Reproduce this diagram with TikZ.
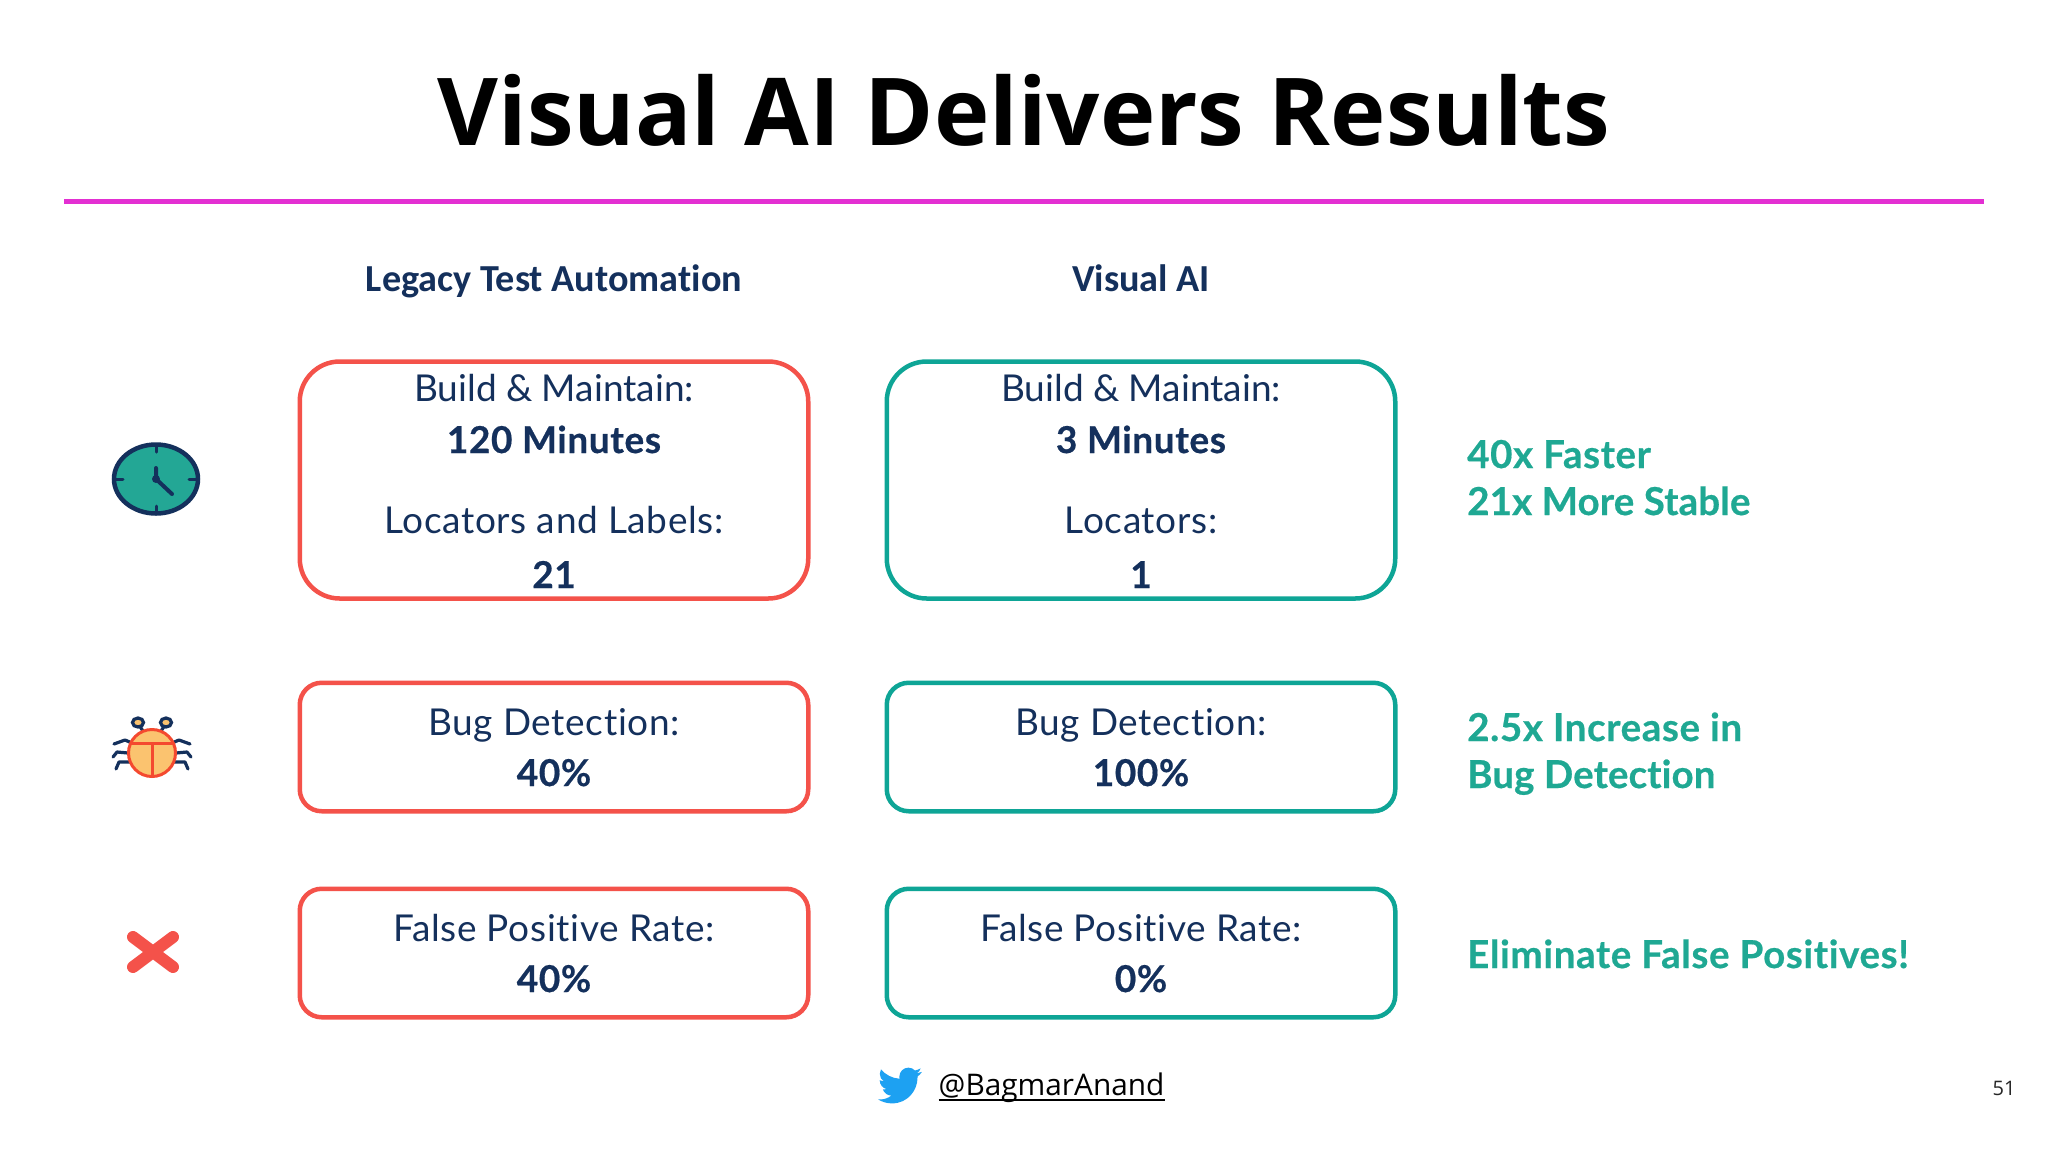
\documentclass[tikz,border=0pt]{standalone}
\usepackage{fontspec}
\setmainfont{Lato}[Ligatures=NoCommon]
\newfontfamily\widefont{Lato}[Ligatures=NoCommon,LetterSpace=1.8]
\newfontfamily\gainfont{Lato}[Ligatures=NoCommon,LetterSpace=1.6,BoldFeatures={FakeBold=0.5}]
\newfontfamily\tightfont{Lato}[Ligatures=NoCommon,LetterSpace=0.3,BoldFeatures={FakeBold=0.5}]
\newfontfamily\opensans{Open Sans}
\newfontfamily\carlito{Carlito}[Ligatures=NoCommon]
\definecolor{navy}{HTML}{14305C}
\definecolor{tealc}{HTML}{0EA596}
\definecolor{tealt}{HTML}{1FA893}
\definecolor{redc}{HTML}{F4524A}
\definecolor{magc}{HTML}{E32FD2}
\definecolor{clockf}{HTML}{23A795}
\definecolor{bugf}{HTML}{FBC36F}
\definecolor{bugr}{HTML}{F4492F}
\definecolor{birdc}{HTML}{1DA1F2}
\newcommand{\fs}[1]{\fontsize{#1}{#1}\selectfont}
\tikzset{
  x=1pt,y=-1pt,
  txt/.style={inner sep=0pt,anchor=base,text=navy},
  reg/.style={txt,font=\fs{37}},
  regwide/.style={txt,font=\widefont\fs{37}},
  bld/.style={txt,font=\gainfont\fs{37}\bfseries},
  hdr/.style={txt,font=\carlito\fs{38.2}\bfseries},
  gain/.style={inner sep=0pt,anchor=base west,text=tealt,font=\gainfont\fs{38.5}\bfseries},
  gaintight/.style={gain,font=\tightfont\fs{38.5}\bfseries},
  box/.style={draw,line width=4.5pt,fill=white,inner sep=0pt},
  redbox/.style={box,draw=redc},
  tealbox/.style={box,draw=tealc},
  leg/.style={navy,line width=3.2pt,line cap=round,line join=round},
}
\begin{document}
\begin{tikzpicture}
\useasboundingbox (0,0) rectangle (2048,1152);
\fill[white] (0,0) rectangle (2048,1152);
\node[inner sep=0pt,anchor=base,font=\opensans\fs{93.7}\bfseries,text=black] (title) at (1024,145) {Visual AI Delivers Results};
\coordinate (ruleL) at (64,201.5);
\coordinate (ruleR) at (1984,201.5);
\draw[magc,line width=5pt] (ruleL) -- (ruleR);
\node[hdr] (h1) at (554,291.5) {Legacy Test Automation};
\node[hdr] (h2) at (1141,291.5) {Visual AI};
% boxes
\node[redbox,minimum width=508.5pt,minimum height=237pt,rounded corners=40pt] (r1) at (554,480) {};
\node[tealbox,minimum width=508.5pt,minimum height=237pt,rounded corners=40pt] (t1) at (1141,480) {};
\node[redbox,minimum width=508.5pt,minimum height=128.5pt,rounded corners=22pt] (r2) at (554,747) {};
\node[tealbox,minimum width=508.5pt,minimum height=128.5pt,rounded corners=22pt] (t2) at (1141,747) {};
\node[redbox,minimum width=508.5pt,minimum height=128.5pt,rounded corners=22pt] (r3) at (554,953) {};
\node[tealbox,minimum width=508.5pt,minimum height=128.5pt,rounded corners=22pt] (t3) at (1141,953) {};
% box text
\node[reg] (a1) at (554,401) {Build \& Maintain:};
\node[bld] (a2) at (554,453) {120 Minutes};
\node[regwide] (a3) at (554,533) {Locators and Labels:};
\node[bld] (a4) at (554,588) {21};
\node[reg] (b1) at (1141,401) {Build \& Maintain:};
\node[bld] (b2) at (1141,453) {3 Minutes};
\node[regwide] (b3) at (1141,533) {Locators:};
\node[bld] (b4) at (1141,588) {1};
\node[regwide] (a5) at (554,735) {Bug Detection:};
\node[bld] (a6) at (554,786) {40\%};
\node[regwide] (b5) at (1141,735) {Bug Detection:};
\node[bld] (b6) at (1141,786) {100\%};
\node[regwide] (a7) at (554,941) {False Positive Rate:};
\node[bld] (a8) at (554,992) {40\%};
\node[regwide] (b7) at (1141,941) {False Positive Rate:};
\node[bld] (b8) at (1141,992) {0\%};
% gains
\node[gain] (g1) at (1467,468) {40x Faster};
\node[gaintight] (g2) at (1467,515) {21x More Stable};
\node[gain] (g3) at (1467,741) {2.5x Increase in};
\node[gaintight] (g4) at (1467,788) {Bug Detection};
\node[gain] (g5) at (1467,968) {Eliminate False Positives!};
% clock
\draw[navy,line width=4.5pt,fill=clockf] (156,479) ellipse [x radius=42pt,y radius=34.5pt];
\draw[navy,line width=3pt,line cap=round] (156,445)--(156,452) (156,513)--(156,506) (115,479)--(123,479) (197,479)--(189,479);
\draw[navy,line width=4pt,line cap=round,line join=round] (156,468)--(156,479)--(172,494);
\fill[navy] (156,479) circle (4pt);
% bug
\draw[leg] (114,744)--(125,740)--(132,743) (113,757)--(117,752)--(128,753) (116,769)--(119,762)--(130,762);
\draw[leg] (190,744)--(179,740)--(172,743) (191,757)--(187,752)--(176,753) (188,769)--(185,762)--(174,762);
\draw[leg] (143,731)--(139,725) (161,731)--(165,725);
\draw[navy,line width=3.2pt,fill=bugf] (138,722.5) ellipse [x radius=5.5pt,y radius=4.5pt];
\draw[navy,line width=3.2pt,fill=bugf] (166,722.5) ellipse [x radius=5.5pt,y radius=4.5pt];
\draw[bugr,line width=3pt,fill=bugf] (152,753) circle (23.5pt);
\draw[bugr,line width=3pt] (131,743)--(173,743) (152,743)--(152,776);
% cross
\draw[redc,line width=12pt,line cap=round] (133,937)--(173,967) (133,967)--(173,937);
% bird
\begin{scope}[shift={(878,1063.5)},x=1.833pt,y=-1.833pt]
\fill[birdc] (23.95,4.57) .. controls (23.07,4.96) and (22.13,5.22) .. (21.13,5.345)
 .. controls (22.15,4.73) and (22.92,3.77) .. (23.29,2.62)
 .. controls (22.34,3.18) and (21.29,3.58) .. (20.16,3.80)
 .. controls (19.26,2.84) and (17.98,2.25) .. (16.57,2.25)
 .. controls (13.85,2.25) and (11.65,4.45) .. (11.65,7.17)
 .. controls (11.65,7.55) and (11.69,7.93) .. (11.78,8.29)
 .. controls (7.69,8.095) and (4.067,6.13) .. (1.64,3.162)
 .. controls (1.22,3.89) and (0.974,4.73) .. (0.974,5.637)
 .. controls (0.974,7.347) and (1.844,8.85) .. (3.162,9.733)
 .. controls (2.35,9.71) and (1.59,9.48) .. (0.934,9.117)
 -- (0.934,9.177)
 .. controls (0.934,11.56) and (2.63,13.55) .. (4.88,14.004)
 .. controls (4.17,14.2) and (3.42,14.23) .. (2.668,14.089)
 .. controls (3.29,16.03) and (5.09,17.46) .. (7.272,17.506)
 .. controls (5.57,18.84) and (3.47,19.611) .. (1.17,19.611)
 .. controls (0.78,19.611) and (0.39,19.59) .. (0,19.544)
 .. controls (2.19,20.94) and (4.78,21.753) .. (7.557,21.753)
 .. controls (16.61,21.753) and (21.555,14.257) .. (21.555,7.768)
 .. controls (21.555,7.56) and (21.555,7.35) .. (21.54,7.138)
 .. controls (22.5,6.44) and (23.33,5.57) .. (23.95,4.57) -- cycle;
\end{scope}
% handle
\node[inner sep=0pt,anchor=base west,font=\opensans\fs{29.8},text=black] (hd) at (938.5,1095) {@BagmarAnand};
\draw[black,line width=2pt] ([yshift=-5pt]hd.base west) -- ([yshift=-5pt]hd.base east);
\node[inner sep=0pt,anchor=base,font=\opensans\fs{20},text=black!85] (pg) at (2004,1095) {51};
\end{tikzpicture}
\end{document}
